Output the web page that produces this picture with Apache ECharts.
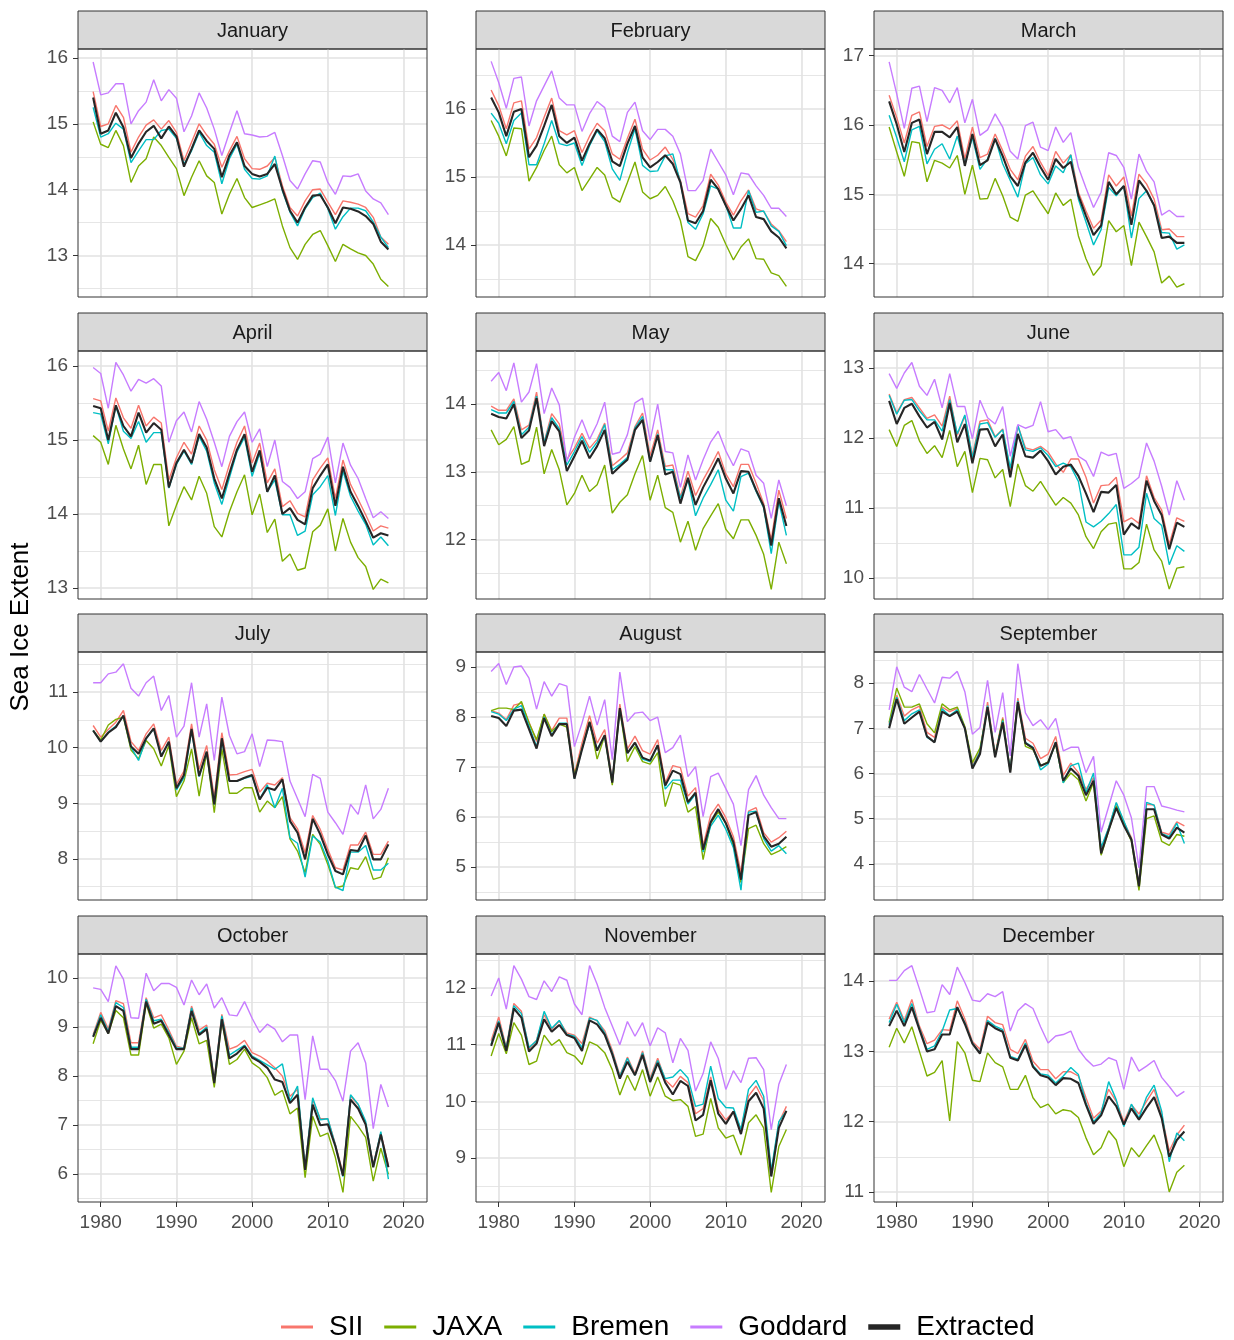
<!DOCTYPE html>
<html>
<head>
<meta charset="utf-8">
<script src="https://cdn.jsdelivr.net/npm/echarts@6/dist/echarts.min.js"></script>
<style>
html,body{margin:0;padding:0;background:#fff;}
#chart{width:1234px;height:1340px;}
</style>
</head>
<body>
<div id="chart"></div>
<script>
const years = [1979,1980,1981,1982,1983,1984,1985,1986,1987,1988,
               1989,1990,1991,1992,1993,1994,1995,1996,1997,1998,
               1999,2000,2001,2002,2003,2004,2005,2006,2007,2008,
               2009,2010,2011,2012,2013,2014,2015,2016,2017,2018];
const months = ['January','February','March','April','May','June','July','August','September','October','November','December'];
const seriesNames = ['SII','JAXA','Bremen','Goddard','Extracted'];
const xTickLabels = [1980,1990,2000,2010,2020];
const yTickLabels = [[13,14,15,16],[14,15,16],[14,15,16,17],[13,14,15,16],[12,13,14],[10,11,12,13],
                     [8,9,10,11],[5,6,7,8,9],[4,5,6,7,8],[6,7,8,9,10],[9,10,11,12],[11,12,13,14]];

// ---------- January ----------
const jan_SII = [15.49,14.96,15.0,15.28,15.1,14.57,14.8,14.98,15.06,14.92, 15.05,14.87,14.44,14.72,15.0,14.83,14.69,14.34,14.59,14.81, 14.47,14.32,14.31,14.36,14.49,14.06,13.73,13.6,13.83,14.0, 14.01,13.81,13.62,13.83,13.81,13.78,13.73,13.58,13.28,13.17];
const jan_JAXA = [15.03,14.69,14.64,14.9,14.67,14.11,14.36,14.47,14.8,14.67, 14.49,14.32,13.91,14.19,14.44,14.21,14.11,13.63,13.93,14.17, 13.88,13.73,13.77,13.81,13.86,13.45,13.12,12.94,13.17,13.32, 13.38,13.15,12.91,13.17,13.1,13.04,13.0,12.87,12.64,12.53];
const jan_Bremen = [15.25,14.8,14.85,15.01,14.92,14.41,14.59,14.76,14.76,14.9, 14.92,14.78,14.39,14.59,14.87,14.67,14.57,14.09,14.47,14.69, 14.31,14.17,14.16,14.21,14.51,13.98,13.66,13.45,13.71,13.88, 13.95,13.71,13.4,13.59,13.72,13.72,13.68,13.51,13.28,13.12];
const jan_Goddard = [15.94,15.44,15.47,15.61,15.61,15.0,15.2,15.33,15.67,15.35, 15.52,15.39,14.88,15.12,15.47,15.24,14.92,14.52,14.87,15.2, 14.85,14.83,14.8,14.81,14.87,14.52,14.14,14.01,14.24,14.44, 14.42,14.11,13.93,14.21,14.2,14.24,13.98,13.86,13.8,13.62];
const jan_Extracted = [15.4,14.85,14.9,15.17,14.95,14.48,14.7,14.88,14.97,14.78, 14.96,14.81,14.35,14.62,14.9,14.74,14.62,14.19,14.52,14.72, 14.36,14.24,14.2,14.24,14.39,14.01,13.68,13.5,13.73,13.91, 13.92,13.73,13.49,13.73,13.71,13.67,13.6,13.48,13.21,13.09];

// ---------- February ----------
const feb_SII = [16.28,16.05,15.71,16.09,16.12,15.41,15.58,15.88,16.16,15.68, 15.62,15.68,15.36,15.6,15.79,15.68,15.34,15.26,15.57,15.85, 15.41,15.25,15.32,15.44,15.26,14.95,14.46,14.41,14.58,15.04, 14.88,14.63,14.44,14.65,14.81,14.53,14.49,14.31,14.21,14.05];
const feb_JAXA = [15.83,15.6,15.31,15.72,15.71,14.94,15.14,15.39,15.6,15.18, 15.06,15.14,14.8,14.97,15.14,15.03,14.7,14.63,14.92,15.22, 14.78,14.68,14.73,14.86,14.65,14.36,13.83,13.77,13.99,14.39, 14.26,14.01,13.78,13.97,14.09,13.8,13.79,13.59,13.55,13.39];
const feb_Bremen = [15.94,15.79,15.49,15.83,15.94,15.18,15.18,15.49,15.83,15.49, 15.46,15.5,15.17,15.46,15.68,15.52,15.12,14.95,15.36,15.71, 15.17,15.08,15.09,15.31,15.34,14.92,14.33,14.23,14.46,14.87, 14.82,14.58,14.25,14.25,14.8,14.48,14.5,14.28,14.2,13.99];
const feb_Goddard = [16.7,16.39,16.01,16.45,16.47,15.75,16.12,16.34,16.56,16.16, 16.06,16.06,15.67,15.93,16.11,16.02,15.6,15.52,15.95,16.1, 15.68,15.55,15.7,15.7,15.6,15.34,14.8,14.8,14.95,15.41, 15.22,15.03,14.74,15.06,15.04,14.87,14.73,14.54,14.54,14.42];
const feb_Extracted = [16.17,15.95,15.6,15.96,16.0,15.29,15.46,15.75,16.06,15.6, 15.5,15.58,15.24,15.49,15.7,15.57,15.23,15.16,15.49,15.75, 15.29,15.14,15.22,15.32,15.19,14.92,14.36,14.32,14.5,14.96, 14.82,14.58,14.36,14.53,14.73,14.41,14.38,14.2,14.11,13.95];

// ---------- March ----------
const mar_SII = [16.43,16.11,15.74,16.14,16.19,15.69,15.98,16.0,15.94,16.06, 15.51,15.97,15.53,15.58,15.87,15.63,15.36,15.21,15.55,15.69, 15.46,15.27,15.62,15.45,15.57,15.03,14.76,14.51,14.63,15.28, 15.12,15.25,14.69,15.29,15.15,14.93,14.49,14.5,14.39,14.39];
const mar_JAXA = [15.97,15.61,15.26,15.76,15.74,15.18,15.49,15.45,15.38,15.56, 15.0,15.42,14.93,14.94,15.23,14.98,14.67,14.61,14.99,15.05, 14.88,14.72,15.02,14.84,14.93,14.4,14.07,13.83,13.97,14.62, 14.46,14.55,13.97,14.6,14.39,14.17,13.72,13.82,13.66,13.71];
const mar_Bremen = [16.14,15.82,15.47,15.93,15.98,15.44,15.65,15.73,15.51,15.84, 15.44,15.82,15.36,15.51,15.81,15.44,15.2,14.96,15.44,15.53, 15.28,15.15,15.41,15.31,15.57,14.93,14.6,14.27,14.49,15.1, 14.98,15.12,14.37,14.94,15.05,14.84,14.45,14.44,14.21,14.27];
const mar_Goddard = [16.91,16.45,15.95,16.53,16.56,16.05,16.54,16.5,16.32,16.54, 16.03,16.37,15.85,15.93,16.16,15.97,15.62,15.51,15.99,16.04, 15.68,15.63,15.97,15.75,15.89,15.39,15.09,14.81,15.03,15.6, 15.56,15.39,14.93,15.58,15.33,15.18,14.7,14.77,14.68,14.68];
const mar_Extracted = [16.34,16.01,15.61,16.03,16.08,15.58,15.9,15.9,15.82,15.97, 15.41,15.87,15.42,15.49,15.8,15.55,15.26,15.12,15.46,15.6, 15.39,15.21,15.51,15.38,15.47,14.98,14.69,14.41,14.55,15.18, 15.0,15.12,14.56,15.2,15.05,14.84,14.37,14.39,14.3,14.3];

// ---------- April ----------
const apr_SII = [15.56,15.53,15.12,15.57,15.3,15.16,15.47,15.19,15.31,15.23, 14.46,14.76,14.97,14.81,15.19,15.0,14.6,14.33,14.67,14.97, 15.19,14.69,14.96,14.42,14.61,14.1,14.18,14.01,13.96,14.46, 14.62,14.76,14.21,14.73,14.4,14.2,13.99,13.77,13.84,13.81];
const apr_JAXA = [15.06,14.97,14.67,15.2,14.88,14.61,14.93,14.4,14.67,14.67, 13.84,14.12,14.37,14.19,14.51,14.28,13.83,13.69,14.03,14.3, 14.53,13.99,14.27,13.75,13.93,13.36,13.46,13.24,13.27,13.76, 13.85,14.07,13.5,13.94,13.62,13.41,13.29,12.98,13.12,13.07];
const apr_Bremen = [15.37,15.35,14.95,15.46,15.12,15.02,15.25,14.97,15.1,15.1, 14.35,14.67,14.85,14.67,15.05,14.85,14.42,14.13,14.49,14.84, 15.04,14.51,14.82,14.3,14.46,13.99,13.99,13.71,13.77,14.26, 14.37,14.52,13.98,14.58,14.24,14.04,13.86,13.58,13.69,13.57];
const apr_Goddard = [15.98,15.9,15.43,16.05,15.88,15.66,15.82,15.77,15.83,15.73, 14.97,15.26,15.38,15.11,15.52,15.28,14.97,14.64,15.05,15.25, 15.38,14.97,15.15,14.64,15.0,14.44,14.36,14.21,14.3,14.75, 14.81,15.04,14.42,14.96,14.66,14.48,14.21,13.95,14.03,13.94];
const apr_Extracted = [15.46,15.43,15.0,15.47,15.19,15.05,15.37,15.1,15.23,15.14, 14.36,14.69,14.87,14.69,15.08,14.9,14.48,14.21,14.55,14.87, 15.08,14.57,14.86,14.3,14.52,14.0,14.08,13.92,13.86,14.35, 14.52,14.67,14.11,14.64,14.3,14.11,13.9,13.68,13.74,13.71];

// ---------- May ----------
const may_SII = [13.97,13.91,13.91,14.08,13.62,13.69,14.18,13.44,13.86,13.71, 13.18,13.35,13.57,13.35,13.48,13.72,13.09,13.18,13.28,13.67, 13.87,13.24,13.62,13.08,13.1,12.63,13.01,12.65,12.88,13.08, 13.3,12.97,12.78,13.11,13.11,12.83,12.53,11.99,12.73,12.31];
const may_JAXA = [13.62,13.4,13.48,13.67,13.11,13.16,13.66,12.97,13.33,13.03, 12.51,12.68,12.95,12.71,12.81,13.1,12.39,12.55,12.66,12.97, 13.24,12.58,12.95,12.47,12.4,11.96,12.27,11.84,12.16,12.35, 12.53,12.15,12.01,12.29,12.29,12.06,11.78,11.26,11.96,11.64];
const may_Bremen = [13.92,13.87,13.87,14.04,13.55,13.66,14.12,13.43,13.8,13.64, 13.1,13.3,13.52,13.29,13.44,13.7,13.03,13.11,13.21,13.65, 13.82,13.15,13.56,13.03,13.03,12.61,12.88,12.35,12.61,12.81, 13.03,12.58,12.42,12.93,12.98,12.71,12.47,11.79,12.56,12.06];
const may_Goddard = [14.34,14.47,14.2,14.61,14.03,14.18,14.6,13.86,14.24,13.99, 13.15,13.51,13.77,13.48,13.71,14.03,13.26,13.29,13.55,14.02, 14.09,13.46,14.0,13.3,13.28,12.77,13.25,12.88,13.18,13.44, 13.6,13.31,13.09,13.34,13.3,12.95,12.83,12.31,12.88,12.5];
const may_Extracted = [13.86,13.81,13.79,14.0,13.5,13.61,14.09,13.38,13.75,13.6, 13.01,13.23,13.46,13.2,13.38,13.62,12.97,13.08,13.18,13.62, 13.77,13.15,13.54,12.96,13.0,12.53,12.91,12.51,12.77,12.98, 13.2,12.9,12.68,13.01,13.0,12.73,12.49,11.91,12.61,12.2];

// ---------- June ----------
const jun_SII = [12.63,12.36,12.55,12.58,12.43,12.28,12.33,12.17,12.6,12.04, 12.31,11.75,12.24,12.26,12.02,12.13,11.53,12.18,11.86,11.83, 11.88,11.8,11.63,11.51,11.7,11.7,11.44,11.07,11.32,11.33, 11.44,10.8,10.86,10.78,11.46,11.15,10.97,10.48,10.86,10.81];
const jun_JAXA = [12.12,11.88,12.18,12.25,11.96,11.78,11.89,11.72,12.11,11.59, 11.81,11.22,11.71,11.69,11.43,11.55,11.02,11.63,11.32,11.24, 11.38,11.21,11.04,11.15,11.07,10.9,10.59,10.42,10.66,10.77, 10.79,10.13,10.13,10.22,10.77,10.4,10.24,9.84,10.14,10.16];
const jun_Bremen = [12.61,12.34,12.54,12.55,12.39,12.26,12.26,12.1,12.55,12.06, 12.33,11.72,12.2,12.22,12.01,12.12,11.57,12.18,11.83,11.81, 11.86,11.75,11.59,11.64,11.59,11.38,10.8,10.73,10.81,10.92, 11.05,10.33,10.33,10.44,11.21,10.85,10.75,10.19,10.46,10.38];
const jun_Goddard = [12.92,12.71,12.93,13.08,12.74,12.61,12.84,12.43,12.92,12.45, 12.45,11.99,12.54,12.29,12.2,12.45,11.74,12.19,12.14,12.18, 12.52,12.09,12.12,11.99,12.02,11.74,11.67,11.45,11.8,11.75, 11.78,11.28,11.35,11.44,11.93,11.67,11.31,10.9,11.39,11.11];
const jun_Extracted = [12.53,12.2,12.43,12.49,12.31,12.15,12.23,11.98,12.5,11.94, 12.2,11.64,12.12,12.13,11.88,12.05,11.44,12.06,11.74,11.72, 11.82,11.67,11.48,11.59,11.62,11.46,11.21,10.94,11.23,11.22, 11.33,10.62,10.78,10.7,11.39,11.1,10.9,10.41,10.79,10.73];

// ---------- July ----------
const jul_SII = [10.4,10.19,10.33,10.46,10.67,10.11,9.95,10.25,10.43,9.95, 10.19,9.34,9.58,10.43,9.61,10.04,9.1,10.27,9.51,9.52, 9.57,9.61,9.2,9.36,9.33,9.46,8.74,8.54,8.11,8.78, 8.53,8.17,7.84,7.8,8.25,8.25,8.48,8.08,8.08,8.32];
const jul_JAXA = [10.31,10.14,10.41,10.51,10.55,9.96,9.8,10.13,9.98,9.67, 10.04,9.12,9.4,9.98,9.13,9.92,8.83,9.98,9.18,9.18, 9.28,9.28,8.84,9.04,8.92,9.12,8.36,8.14,7.75,8.44, 8.26,7.9,7.48,7.51,7.84,7.81,8.04,7.63,7.67,8.02];
const jul_Bremen = [10.31,10.11,10.28,10.39,10.57,10.01,9.77,10.16,10.34,9.86, 10.1,9.24,9.46,10.31,9.48,9.92,8.98,10.14,9.4,9.4, 9.45,9.49,9.07,9.33,8.92,9.27,8.38,8.28,7.67,8.41, 8.3,7.96,7.49,7.43,8.12,8.12,8.24,7.8,7.8,7.92];
const jul_Goddard = [11.17,11.17,11.33,11.36,11.51,11.07,10.93,11.17,11.29,10.67, 10.94,10.19,10.39,11.17,10.19,10.79,9.77,10.91,10.22,9.89, 9.93,10.25,9.66,10.14,10.13,10.11,9.4,9.08,8.76,9.52, 9.45,8.84,8.65,8.44,8.98,8.8,9.33,8.72,8.89,9.27];
const jul_Extracted = [10.31,10.11,10.27,10.37,10.58,10.02,9.89,10.17,10.35,9.84, 10.11,9.27,9.51,10.34,9.49,9.93,8.98,10.17,9.4,9.4, 9.46,9.51,9.07,9.28,9.24,9.43,8.68,8.47,7.99,8.72, 8.44,8.08,7.78,7.72,8.16,8.14,8.42,7.99,7.99,8.26];

// ---------- August ----------
const aug_SII = [8.13,8.08,7.95,8.24,8.28,7.9,7.51,8.06,7.73,7.98, 7.98,6.86,7.48,8.03,7.48,7.75,6.73,8.26,7.36,7.62, 7.33,7.26,7.55,6.68,7.03,6.99,6.42,6.59,5.43,6.04, 6.26,5.99,5.61,4.89,6.12,6.19,5.69,5.5,5.59,5.72];
const aug_JAXA = [8.13,8.18,8.18,8.15,8.31,7.88,7.55,8.06,7.71,7.86, 7.8,6.84,7.37,7.91,7.16,7.63,6.64,8.16,7.11,7.41, 7.11,7.06,7.29,6.21,6.69,6.64,6.1,6.21,5.15,5.88, 6.1,5.88,5.43,4.69,5.77,5.84,5.47,5.25,5.32,5.41];
const aug_Bremen = [8.11,8.06,7.93,8.16,8.23,7.82,7.41,8.0,7.64,7.88, 7.88,6.77,7.36,7.86,7.36,7.62,6.71,8.18,7.28,7.48, 7.16,7.11,7.44,6.56,6.74,6.74,6.26,6.46,5.3,5.82, 6.04,5.76,5.39,4.54,6.1,6.12,5.57,5.32,5.43,5.27];
const aug_Goddard = [8.91,9.07,8.65,9.0,9.02,8.78,8.16,8.71,8.42,8.67, 8.62,7.41,7.88,8.42,7.84,8.35,7.15,8.9,7.91,8.08, 8.1,7.93,8.0,7.29,7.39,7.64,6.81,7.01,6.01,6.81, 6.88,6.57,6.26,5.43,6.55,6.83,6.44,6.19,5.97,5.97];
const aug_Extracted = [8.02,7.98,7.82,8.13,8.15,7.76,7.37,7.98,7.62,7.86, 7.86,6.77,7.35,7.9,7.33,7.64,6.69,8.18,7.28,7.49, 7.19,7.13,7.44,6.63,6.93,6.86,6.3,6.49,5.35,5.9, 6.16,5.88,5.5,4.75,6.04,6.1,5.62,5.41,5.47,5.61];

// ---------- September ----------
const sep_SII = [7.1,7.73,7.27,7.41,7.49,6.91,6.8,7.47,7.37,7.44, 7.02,6.17,6.5,7.58,6.43,7.24,6.06,7.67,6.78,6.67, 6.33,6.43,6.82,5.96,6.23,6.02,5.65,5.91,4.3,4.8, 5.34,4.93,4.58,3.58,5.32,5.3,4.7,4.65,4.93,4.84];
const sep_JAXA = [7.13,7.89,7.47,7.47,7.54,7.1,6.9,7.54,7.41,7.47, 7.04,6.24,6.56,7.43,6.39,7.21,6.04,7.59,6.6,6.53, 6.17,6.26,6.65,5.8,6.01,5.86,5.39,5.8,4.19,4.73, 5.28,4.87,4.5,3.41,5.0,5.06,4.5,4.41,4.65,4.61];
const sep_Bremen = [7.07,7.69,7.17,7.32,7.41,6.8,6.7,7.43,7.28,7.41, 7.0,6.13,6.48,7.5,6.39,7.17,6.06,7.61,6.69,6.58, 6.08,6.21,6.7,5.79,6.17,6.23,5.58,6.01,4.36,4.8, 5.36,4.95,4.54,3.54,5.36,5.3,4.67,4.6,4.9,4.45];
const sep_Goddard = [7.41,8.36,7.91,7.81,8.19,7.87,7.56,8.13,8.11,8.26, 7.81,6.87,7.02,8.06,6.91,7.79,6.39,8.43,7.34,7.06, 7.19,6.97,7.22,6.5,6.58,6.58,6.02,6.38,4.7,5.27, 5.84,5.52,5.02,3.91,5.71,5.71,5.28,5.24,5.19,5.15];
const sep_Extracted = [7.0,7.65,7.1,7.24,7.37,6.82,6.69,7.37,7.27,7.37, 7.0,6.11,6.43,7.47,6.36,7.13,6.02,7.58,6.67,6.56, 6.17,6.24,6.69,5.84,6.11,5.95,5.52,5.84,4.23,4.75, 5.24,4.85,4.54,3.5,5.21,5.21,4.65,4.56,4.8,4.69];

// ---------- October ----------
const oct_SII = [8.85,9.3,8.96,9.54,9.48,8.68,8.68,9.6,9.19,9.25, 8.94,8.61,8.57,9.43,8.94,9.04,7.93,9.26,8.55,8.61, 8.73,8.48,8.41,8.31,8.17,8.0,7.59,7.73,6.14,7.52, 7.13,7.13,6.61,6.02,7.59,7.42,7.04,6.2,6.84,6.18];
const oct_JAXA = [8.66,9.14,8.87,9.34,9.19,8.43,8.43,9.48,8.98,9.06, 8.78,8.24,8.51,9.19,8.66,8.73,7.77,9.13,8.24,8.34, 8.55,8.27,8.16,7.97,7.61,7.71,7.23,7.35,5.93,7.18, 6.77,6.84,6.34,5.63,7.18,6.98,6.75,5.86,6.53,6.0];
const oct_Bremen = [8.82,9.25,8.91,9.5,9.4,8.59,8.59,9.57,9.13,9.16, 8.89,8.58,8.57,9.39,8.87,9.0,7.88,9.23,8.43,8.53, 8.63,8.41,8.32,8.23,8.14,8.25,7.49,7.8,6.12,7.56, 7.11,7.13,6.59,5.95,7.62,7.43,7.08,6.16,6.87,5.9];
const oct_Goddard = [9.8,9.77,9.52,10.25,9.98,9.19,9.18,10.1,9.74,9.89, 9.89,9.81,9.45,9.96,9.66,9.88,9.39,9.6,9.25,9.23, 9.52,9.18,8.89,9.06,8.96,8.7,8.84,8.84,7.52,8.82, 8.14,8.14,7.91,7.49,8.51,8.68,8.27,6.93,7.83,7.37];
const oct_Extracted = [8.8,9.19,8.87,9.43,9.33,8.55,8.55,9.52,9.07,9.13, 8.84,8.55,8.55,9.33,8.84,8.96,7.86,9.16,8.36,8.46, 8.61,8.38,8.29,8.17,7.93,7.88,7.45,7.62,6.09,7.42, 7.0,7.02,6.57,5.97,7.52,7.34,7.01,6.14,6.81,6.14];

// ---------- November ----------
const nov_SII = [11.07,11.49,10.95,11.73,11.59,10.93,11.08,11.53,11.27,11.42, 11.21,11.17,11.02,11.49,11.42,11.25,10.9,10.46,10.78,10.49, 10.89,10.41,10.76,10.38,10.25,10.44,10.33,9.78,9.87,10.43, 9.85,9.67,9.82,9.51,10.09,10.27,10.01,8.73,9.62,9.91];
const nov_JAXA = [10.8,11.2,10.84,11.39,11.17,10.65,10.71,11.17,10.99,11.09, 10.86,10.8,10.65,11.05,10.99,10.86,10.56,10.11,10.46,10.19, 10.56,10.09,10.43,10.09,10.01,10.03,9.91,9.38,9.42,10.05, 9.53,9.35,9.4,9.05,9.62,9.76,9.53,8.39,9.2,9.5];
const nov_Bremen = [11.01,11.42,10.93,11.69,11.55,10.95,11.07,11.59,11.29,11.43, 11.18,11.15,10.95,11.47,11.43,11.21,10.86,10.44,10.76,10.46, 10.86,10.37,10.72,10.4,10.43,10.56,10.41,9.91,9.95,10.62, 10.05,9.89,9.88,9.5,10.21,10.37,10.09,8.77,9.64,9.83];
const nov_Goddard = [11.86,12.18,11.63,12.4,12.16,11.85,11.8,12.13,11.94,12.2, 12.14,11.72,11.53,12.4,12.07,11.66,11.33,11.0,11.41,11.15, 11.39,10.98,11.3,11.21,10.68,11.11,10.9,10.18,10.49,11.05, 10.76,10.21,10.54,10.33,10.76,10.77,10.56,9.5,10.3,10.65];
const nov_Extracted = [10.98,11.39,10.89,11.64,11.48,10.88,11.02,11.45,11.23,11.35, 11.17,11.12,10.89,11.43,11.36,11.18,10.83,10.4,10.7,10.46, 10.82,10.34,10.68,10.33,10.12,10.36,10.27,9.66,9.76,10.37, 9.78,9.6,9.82,9.42,10.0,10.15,9.87,8.67,9.53,9.83];

// ---------- December ----------
const dec_SII = [13.46,13.7,13.44,13.74,13.36,13.11,13.16,13.31,13.3,13.72, 13.46,13.14,13.03,13.5,13.41,13.38,13.03,12.97,13.17,12.86, 12.74,12.74,12.61,12.71,12.71,12.65,12.34,12.05,12.15,12.46, 12.29,12.0,12.24,12.11,12.29,12.46,12.1,11.58,11.81,11.95];
const dec_JAXA = [13.06,13.33,13.12,13.35,13.0,12.65,12.7,12.87,12.01,13.14, 12.98,12.59,12.57,12.98,12.84,12.78,12.46,12.46,12.66,12.34, 12.2,12.25,12.11,12.17,12.15,12.06,11.77,11.53,11.63,11.87, 11.74,11.36,11.63,11.5,11.66,11.81,11.53,11.0,11.28,11.38];
const dec_Bremen = [13.41,13.67,13.41,13.68,13.33,13.03,13.08,13.29,13.59,13.61, 13.41,13.12,12.98,13.44,13.36,13.31,12.93,12.89,13.12,12.8, 12.68,12.66,12.55,12.65,12.77,12.67,12.27,12.0,12.12,12.57, 12.31,11.93,12.25,12.05,12.35,12.52,12.15,11.43,11.84,11.73];
const dec_Goddard = [14.01,14.01,14.15,14.22,13.89,13.55,13.57,13.95,13.81,14.2, 13.98,13.73,13.71,13.82,13.78,13.85,13.29,13.58,13.68,13.61, 13.35,13.12,13.22,13.24,13.29,13.03,12.89,12.79,12.82,12.91, 12.87,12.46,12.92,12.72,12.79,12.87,12.63,12.5,12.36,12.43];
const dec_Extracted = [13.36,13.58,13.36,13.63,13.31,13.0,13.03,13.24,13.24,13.63, 13.39,13.11,12.97,13.41,13.33,13.28,12.91,12.87,13.09,12.78, 12.66,12.63,12.52,12.62,12.61,12.55,12.24,11.97,12.09,12.36, 12.22,11.96,12.19,12.03,12.2,12.35,12.05,11.5,11.74,11.86];

const panelSeries = [
  [jan_SII, jan_JAXA, jan_Bremen, jan_Goddard, jan_Extracted],
  [feb_SII, feb_JAXA, feb_Bremen, feb_Goddard, feb_Extracted],
  [mar_SII, mar_JAXA, mar_Bremen, mar_Goddard, mar_Extracted],
  [apr_SII, apr_JAXA, apr_Bremen, apr_Goddard, apr_Extracted],
  [may_SII, may_JAXA, may_Bremen, may_Goddard, may_Extracted],
  [jun_SII, jun_JAXA, jun_Bremen, jun_Goddard, jun_Extracted],
  [jul_SII, jul_JAXA, jul_Bremen, jul_Goddard, jul_Extracted],
  [aug_SII, aug_JAXA, aug_Bremen, aug_Goddard, aug_Extracted],
  [sep_SII, sep_JAXA, sep_Bremen, sep_Goddard, sep_Extracted],
  [oct_SII, oct_JAXA, oct_Bremen, oct_Goddard, oct_Extracted],
  [nov_SII, nov_JAXA, nov_Bremen, nov_Goddard, nov_Extracted],
  [dec_SII, dec_JAXA, dec_Bremen, dec_Goddard, dec_Extracted]
];

// ---------- axis ranges (panel limits, free y scales) ----------
const yMin = [12.37, 13.235, 13.519, 12.851, 11.119, 9.699, 7.259, 4.344, 3.2, 5.433, 8.219, 10.857];
const yMax = [16.137, 16.882, 17.096, 16.204, 14.787, 13.244, 11.723, 9.301, 8.689, 10.491, 12.604, 14.386];
const xMin = 1977.0, xMax = 2023.1;

// ---------- layout & style ----------
const FONT = '"Liberation Sans", Arial, Helvetica, sans-serif';
const colLeft = [78, 476, 874];
const rowTop = [49, 351, 652, 954];
const PW = 349, PH = 248, STRIP = 38;
const colors = ['#F8766D', '#7CAE00', '#00BFC4', '#C77CFF', '#262626'];
const widths = [1.4, 1.4, 1.4, 1.4, 2.1];

const grids = [], xAxes = [], yAxes = [], series = [], graphics = [];

months.forEach((m, k) => {
  const r = Math.floor(k / 3), c = k % 3;
  const left = colLeft[c], top = rowTop[r];
  const bottomRow = r === 3;
  grids.push({
    left: left, top: top, width: PW, height: PH,
    show: true, borderColor: '#333333', borderWidth: 1,
    backgroundColor: 'transparent', z: 10
  });
  xAxes.push({
    type: 'value', gridIndex: k, min: xMin, max: xMax,
    minInterval: 10, maxInterval: 10,
    axisLine: { show: false },
    axisTick: { show: bottomRow, length: 5, lineStyle: { color: '#333333', width: 1 }, customValues: xTickLabels },
    axisLabel: {
      show: bottomRow, margin: 11, fontSize: 19, color: '#4d4d4d', fontFamily: FONT,
      customValues: xTickLabels,
      formatter: v => (Math.abs(v % 10) < 1e-6 ? String(v) : '')
    },
    splitLine: { show: true, lineStyle: { color: '#e2e2e2', width: 1.6 } }
  });
  yAxes.push({
    type: 'value', gridIndex: k, min: yMin[k], max: yMax[k],
    minInterval: 1, maxInterval: 1,
    axisLine: { show: false },
    axisTick: { show: true, length: 5, lineStyle: { color: '#333333', width: 1 }, customValues: yTickLabels[k] },
    axisLabel: {
      show: true, margin: 10, fontSize: 19, color: '#4d4d4d', fontFamily: FONT,
      customValues: yTickLabels[k],
      formatter: v => (Math.abs(v - Math.round(v)) < 1e-6 ? String(Math.round(v)) : '')
    },
    splitLine: { show: true, lineStyle: { color: '#e2e2e2', width: 1.6 } },
    minorTick: { show: false, splitNumber: 2 },
    minorSplitLine: { show: true, lineStyle: { color: '#e6e6e6', width: 1.2 } }
  });
  panelSeries[k].forEach((vals, s) => {
    series.push({
      name: seriesNames[s], type: 'line', xAxisIndex: k, yAxisIndex: k,
      data: years.map((y, i) => [y, vals[i]]),
      symbol: 'none', showSymbol: false, silent: true,
      lineStyle: { color: colors[s], width: widths[s] },
      itemStyle: { color: colors[s] },
      z: 2 + s * 0.1, clip: true
    });
  });
  // facet strip
  graphics.push({
    type: 'rect', shape: { x: left, y: top - STRIP, width: PW, height: STRIP },
    style: { fill: '#d9d9d9', stroke: '#333333', lineWidth: 1 }, silent: true
  });
  graphics.push({
    type: 'text', x: left + PW / 2, y: top - STRIP / 2 + 1,
    style: { text: m, fontSize: 20, fontFamily: FONT, fill: '#1a1a1a', align: 'center', verticalAlign: 'middle' },
    silent: true
  });
});

graphics.push({
  type: 'text', x: 21, y: 627, rotation: Math.PI / 2,
  style: { text: 'Sea Ice Extent', fontSize: 26, fontFamily: FONT, fill: '#000', align: 'center', verticalAlign: 'middle' },
  silent: true
});

const chart = echarts.init(document.getElementById('chart'), null, { renderer: 'canvas' });
chart.setOption({
  backgroundColor: '#ffffff',
  animation: false,
  grid: grids, xAxis: xAxes, yAxis: yAxes, series: series,
  graphic: { elements: graphics },
  legend: {
    left: 276, top: 1308, orient: 'horizontal',
    itemWidth: 32, itemHeight: 10, itemGap: 21, selectedMode: false,
    textStyle: { fontSize: 28, color: '#000', fontFamily: FONT, padding: [0, 0, 0, 11] },
    data: seriesNames.map((n, i) => ({
      name: n,
      icon: i === 4 ? 'path://M0,0M32,10M0,2.2H32V7.8H0Z' : 'path://M0,0M32,10M0,3.5H32V6.5H0Z'
    }))
  }
});
</script>
</body>
</html>
